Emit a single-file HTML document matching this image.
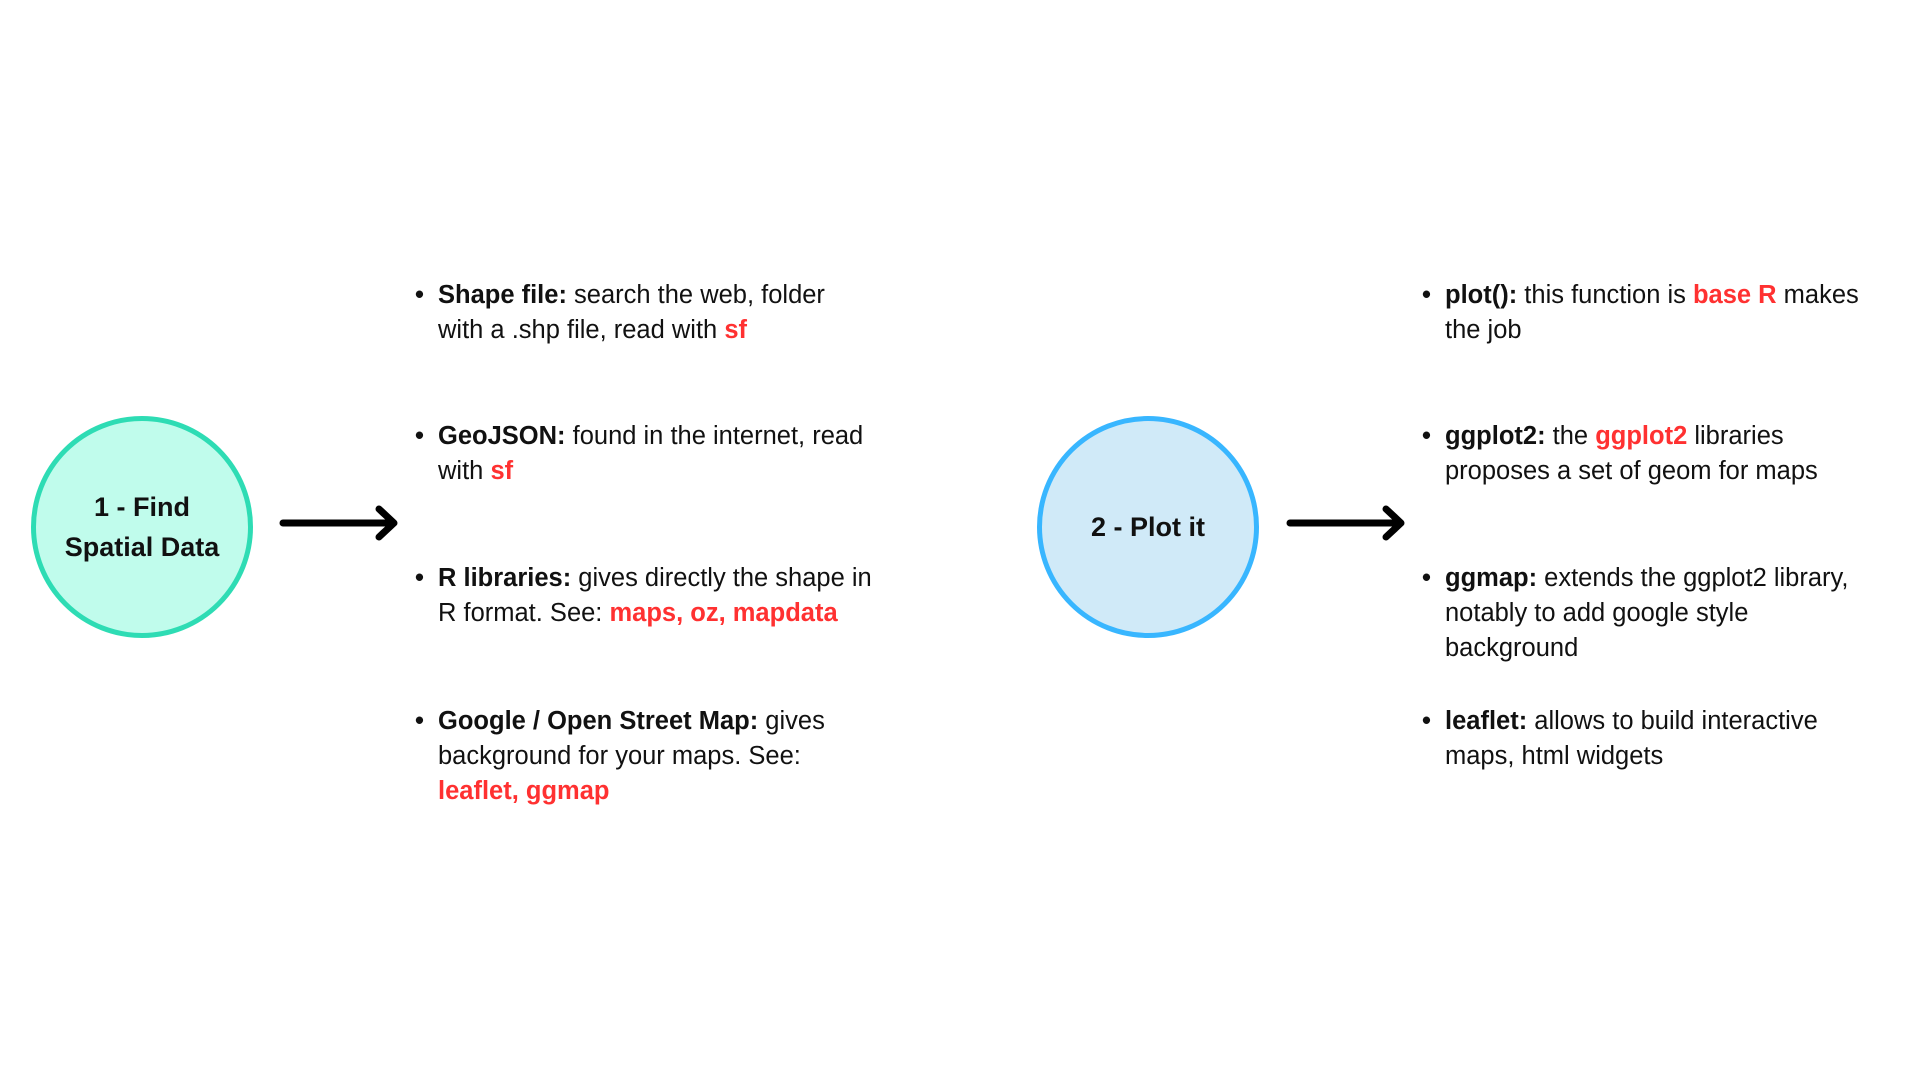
<!DOCTYPE html>
<html><head><meta charset="utf-8"><style>
body{margin:0;width:1920px;height:1080px;background:#fff;position:relative;overflow:hidden;font-family:"Liberation Sans",sans-serif;color:#111}
.c{position:absolute;width:212px;height:212px;border-radius:50%;display:flex;align-items:center;justify-content:center;text-align:center;font-weight:bold;font-size:27px;line-height:40px}
.t{position:absolute;font-size:25.5px;line-height:35px;width:560px;white-space:nowrap}
.t p{margin:0;position:relative;padding-left:19px}
.t p:before{content:"•";position:absolute;left:-4px;font-weight:bold}
b{font-weight:bold}
.r{color:#ff3131;font-weight:bold}
svg{position:absolute;left:0;top:0}
</style></head><body>
<div class="c" style="left:31px;top:416px;border:5px solid #2edcb4;background:#c0fcec">1 - Find<br>Spatial Data</div>
<div class="c" style="left:1037px;top:416px;border:5px solid #38b6ff;background:#d0eaf8">2 - Plot it</div>
<svg width="1920" height="1080">
<g stroke="#000" stroke-width="7" fill="none" stroke-linecap="round" stroke-linejoin="round">
<line x1="283" y1="523" x2="392" y2="523"/><polyline points="379,509 394,523 379,537"/>
<line x1="1290" y1="523" x2="1399" y2="523"/><polyline points="1386,509 1401,523 1386,537"/>
</g></svg>
<div class="t" style="left:419px;top:278px"><p><b>Shape file:</b> search the web, folder<br>with a .shp file, read with <span class="r">sf</span></p></div>
<div class="t" style="left:419px;top:419px"><p><b>GeoJSON:</b> found in the internet, read<br>with <span class="r">sf</span></p></div>
<div class="t" style="left:419px;top:561px"><p><b>R libraries:</b> gives directly the shape in<br>R format. See: <span class="r">maps, oz, mapdata</span></p></div>
<div class="t" style="left:419px;top:704px"><p><b>Google / Open Street Map:</b> gives<br>background for your maps. See:<br><span class="r">leaflet, ggmap</span></p></div>
<div class="t" style="left:1426px;top:278px"><p><b>plot():</b> this function is <span class="r">base R</span> makes<br>the job</p></div>
<div class="t" style="left:1426px;top:419px"><p><b>ggplot2:</b> the <span class="r">ggplot2</span> libraries<br>proposes a set of geom for maps</p></div>
<div class="t" style="left:1426px;top:561px"><p><b>ggmap:</b> extends the ggplot2 library,<br>notably to add google style<br>background</p></div>
<div class="t" style="left:1426px;top:704px"><p><b>leaflet:</b> allows to build interactive<br>maps, html widgets</p></div>
</body></html>
